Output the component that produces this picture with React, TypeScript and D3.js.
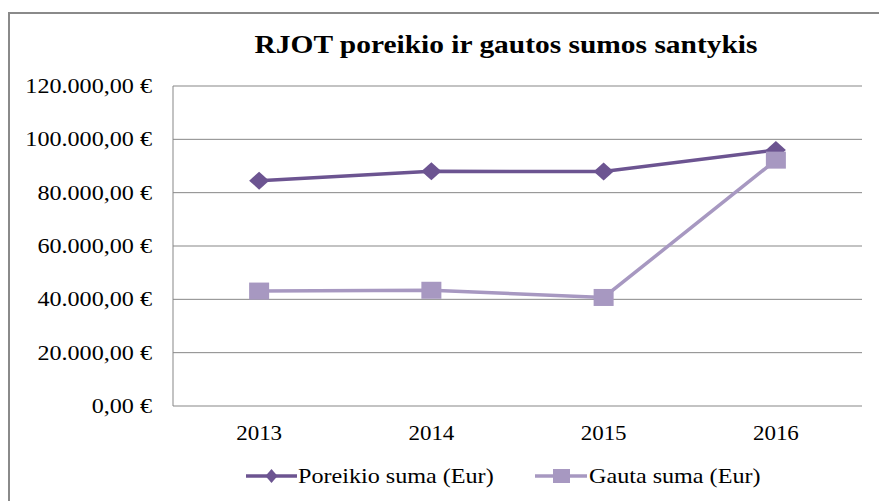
import React from "react";
import * as d3 from "d3";

// chart data //
const years = ["2013", "2014", "2015", "2016"];
const poreikio = [84500, 88000, 87900, 96000];
const gauta = [43100, 43400, 40700, 92200];
const yTicks = [0, 20000, 40000, 60000, 80000, 100000, 120000];
const seriesNames = ["Poreikio suma (Eur)", "Gauta suma (Eur)"];
const title = "RJOT poreikio ir gautos sumos santykis";

const W = 879, H = 501;
const plot = { left: 173, right: 862, top: 86, bottom: 406 };
const darkColor = "#6c5491";
const lightColor = "#a798c1";
const gridColor = "#878787";
const font = "Liberation Serif, Times New Roman, serif";
const stretch = 1.15; // the original is a bit wider than tall

// lithuanian money format: 120.000,00 €
const money = (v: number) => {
  const s = d3.format(",.2f")(v);
  return s.replace(/,/g, " ").replace(".", ",").replace(/ /g, ".") + " €";
};

const diamond = (cx: number, cy: number, w: number, h: number) =>
  `M${cx},${cy - h / 2}L${cx + w / 2},${cy}L${cx},${cy + h / 2}L${cx - w / 2},${cy}Z`;

const Txt = ({ x, y, children, anchor = "start", size = 21, bold = false }: any) => (
  <text
    transform={`translate(${x},${y}) scale(${stretch},1)`}
    textAnchor={anchor}
    style={{ fontFamily: font, fontSize: size, fontWeight: bold ? 700 : 400 }}
    fill="#000"
  >
    {children}
  </text>
);

export default function App() {
  const x = d3.scalePoint().domain(years).range([plot.left, plot.right]).padding(0.5);
  const y = d3.scaleLinear().domain([0, 120000]).range([plot.bottom, plot.top]);

  const line = d3.line<number>()
    .x((_, i) => x(years[i])!)
    .y(d => y(d));

  return (
    <svg
      width={W}
      height={H}
      style={{ position: "fixed", left: 0, top: 0, background: "#fff" }}
    >
      {/* chart frame */}
      <rect x={9} y={13} width={W + 40} height={H + 40} fill="#fff" stroke="#8a8a8a" strokeWidth={2} />

      <Txt x={506} y={53} anchor="middle" size={25.6} bold>{title}</Txt>

      {/* gridlines */}
      {yTicks.map(t => (
        <g key={t}>
          <line x1={plot.left} x2={plot.right} y1={y(t)} y2={y(t)} stroke={gridColor} strokeWidth={1} />
          <Txt x={152} y={y(t) + 7} anchor="end">{money(t)}</Txt>
        </g>
      ))}
      <line x1={plot.left} x2={plot.left} y1={plot.top} y2={plot.bottom} stroke={gridColor} strokeWidth={1} />

      {years.map(yr => (
        <Txt key={yr} x={x(yr)!} y={440} anchor="middle" size={20}>{yr}</Txt>
      ))}

      {/* series lines */}
      <path d={line(poreikio)!} fill="none" stroke={darkColor} strokeWidth={3.5} />
      <path d={line(gauta)!} fill="none" stroke={lightColor} strokeWidth={3.5} />

      {poreikio.map((v, i) => (
        <path key={"p" + i} d={diamond(x(years[i])!, y(v), 20, 18)} fill={darkColor} />
      ))}
      {gauta.map((v, i) => (
        <rect key={"g" + i} x={x(years[i])! - 10} y={y(v) - 8.5} width={20} height={17} fill={lightColor} />
      ))}

      {/* legend */}
      <line x1={246} x2={297} y1={476} y2={476} stroke={darkColor} strokeWidth={3.5} />
      <path d={diamond(271.5, 476, 12, 14)} fill={darkColor} />
      <Txt x={298} y={483}>{seriesNames[0]}</Txt>

      <line x1={535} x2={587} y1={476} y2={476} stroke={lightColor} strokeWidth={3.5} />
      <rect x={553} y={469} width={17} height={14} fill={lightColor} />
      <Txt x={589} y={483}>{seriesNames[1]}</Txt>
    </svg>
  );
}
